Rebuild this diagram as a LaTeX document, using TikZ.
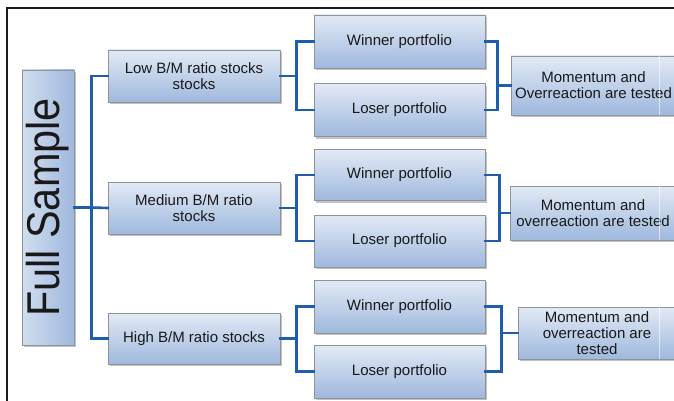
\documentclass[tikz,border=0pt]{standalone}
\usepackage{fontspec}
\setmainfont{Liberation Sans}
\usetikzlibrary{shadows}
\definecolor{boxtop}{HTML}{E2EAF5}
\definecolor{boxbot}{HTML}{9FB8DD}
\definecolor{boxedge}{HTML}{8E949C}
\definecolor{wire}{HTML}{1F5EAE}
\definecolor{frameline}{HTML}{1C1C1C}
\tikzset{
  boxbase/.style={draw=boxedge, line width=0.8pt,
    align=center, inner sep=1pt, text=black!90,
    font=\fontsize{15}{16}\selectfont,
    drop shadow={shadow xshift=1.8pt, shadow yshift=-2.2pt, opacity=0.4, fill=black!60}},
  box/.style={boxbase, top color=boxtop, bottom color=boxbot},
  sidebox/.style={boxbase, left color=boxtop!75!boxbot, right color=boxbot},
  conn/.style={draw=wire, line width=2.6pt, line join=miter, line cap=rect},
}
\begin{document}
\begin{tikzpicture}[x=1pt, y=-1pt]
  \useasboundingbox (0,0) rectangle (674,401);
  \clip (0,0) rectangle (674,401);

  % outer frame (top and left edges)
  \draw[frameline, line width=2.6pt] (7,401) -- (7,8) -- (674,8);

  % root box
  \node[sidebox, minimum width=52pt, minimum height=275pt] (fs) at (48,207.5)
    {\rotatebox{90}{\scalebox{0.9}[1]{\fontsize{46}{46}\selectfont Full Sample}}};

  % B/M groups
  \node[box, minimum width=172pt, minimum height=52pt] (low)  at (194,76)    {Low B/M ratio stocks\\stocks};
  \node[box, minimum width=172pt, minimum height=52pt] (med)  at (194,208)   {Medium B/M ratio\\stocks};
  \node[box, minimum width=172pt, minimum height=51pt] (high) at (194,338.5) {High B/M ratio stocks};

  % portfolios
  \node[box, minimum width=171pt, minimum height=53pt] (w1) at (399.5,41.5)  {Winner portfolio};
  \node[box, minimum width=171pt, minimum height=53pt] (l1) at (399.5,110)   {Loser portfolio};
  \node[box, minimum width=171pt, minimum height=51pt] (w2) at (399.5,175)   {Winner portfolio};
  \node[box, minimum width=171pt, minimum height=52pt] (l2) at (399.5,241)   {Loser portfolio};
  \node[box, minimum width=171pt, minimum height=53pt] (w3) at (399.5,306.5) {Winner portfolio};
  \node[box, minimum width=171pt, minimum height=53pt] (l3) at (399.5,371.5) {Loser portfolio};

  % tests
  \node[box, minimum width=165pt, minimum height=59pt] (m1) at (593.5,85.5) {Momentum and\\Overreaction are tested};
  \node[box, minimum width=166pt, minimum height=54pt] (m2) at (593,213)    {Momentum and\\overreaction are tested};
  \node[box, minimum width=158pt, minimum height=52pt] (m3) at (597,333)    {Momentum and\\overreaction are\\tested};

  % faint seam near the right end of the test boxes
  \foreach \m in {m1,m2,m3}
    \draw[white, opacity=0.6, line width=0.8pt] ([xshift=-17pt]\m.north east) -- ([xshift=-17pt]\m.south east);

  % trunk from the root
  \draw[conn] (fs.east) -- ++(17,0) coordinate (t0);
  \draw[conn] (low.west) -| (t0) |- (high.west);
  \draw[conn] (t0) -- (med.west);

  % splits into winner / loser
  \draw[conn] (low.east)  -- ++(16,0) coordinate (j1);
  \draw[conn] (w1.west) -| (j1) |- (l1.west);
  \draw[conn] (med.east)  -- ++(16,0) coordinate (j2);
  \draw[conn] (w2.west) -| (j2) |- (l2.west);
  \draw[conn] (high.east) -- ++(16,0) coordinate (j3);
  \draw[conn] (w3.west) -| (j3) |- (l3.west);

  % merges into the tests
  \draw[conn] (m1.west) -- ++(-13,0) coordinate (k1);
  \draw[conn] (w1.east) -| (k1) |- (l1.east);
  \draw[conn] (m2.west) -- ++(-10,0) coordinate (k2);
  \draw[conn] (w2.east) -| (k2) |- (l2.east);
  \draw[conn] (m3.west) -- ++(-16,0) coordinate (k3);
  \draw[conn] (w3.east) -| (k3) |- (l3.east);
\end{tikzpicture}
\end{document}
